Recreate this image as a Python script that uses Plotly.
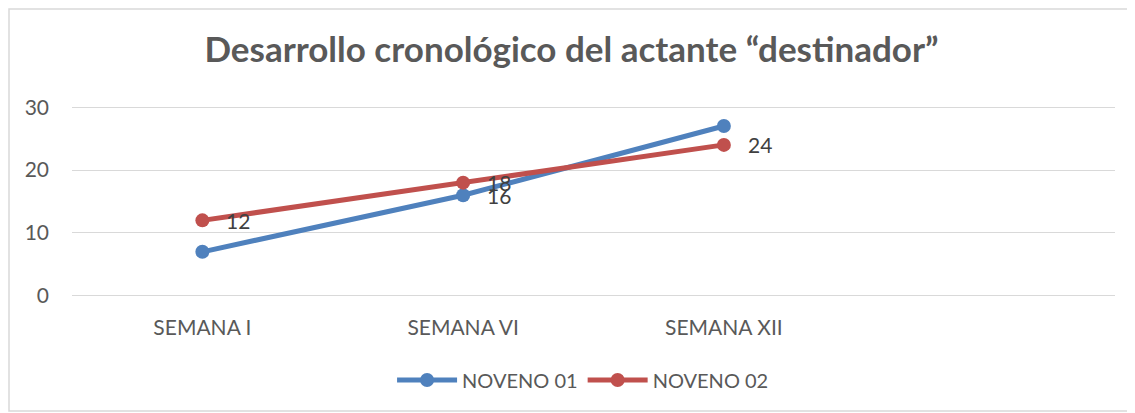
import plotly.graph_objects as go

semanas = ["SEMANA I", "SEMANA VI", "SEMANA XII"]
noveno_01 = [7, 16, 27]
noveno_02 = [12, 18, 24]
etiquetas_01 = ["", "16", ""]
etiquetas_02 = ["12", "18", "24"]

azul = "#4F81BD"
rojo = "#C0504D"
gris = "#595959"
fuente = "Lato"

fig = go.Figure()
fig.add_trace(go.Scatter(
    x=semanas, y=noveno_01, name="NOVENO 01", mode="lines+markers",
    line=dict(color=azul, width=5), marker=dict(size=14, color=azul),
))
fig.add_trace(go.Scatter(
    x=semanas, y=noveno_02, name="NOVENO 02", mode="lines+markers",
    line=dict(color=rojo, width=5), marker=dict(size=14, color=rojo),
))

# etiquetas de datos, desplazadas a la derecha como en Excel
for serie, etiquetas in [(noveno_01, etiquetas_01), (noveno_02, etiquetas_02)]:
    for sem, val, txt in zip(semanas, serie, etiquetas):
        if txt:
            fig.add_annotation(x=sem, y=val, text=txt, showarrow=False,
                               xanchor="left", yanchor="middle", xshift=22,
                               font=dict(family=fuente, size=21, color="#404040"))

# la página tiene 8px de margen, así que la figura es algo más pequeña
W, H = 1127, 405
ml, mt, pw, ph = 64, 96, 1043, 195
fondo = mt + ph

# marco gris del gráfico
fig.add_shape(type="rect", xref="paper", yref="paper",
              x0=(1 - ml) / pw, x1=(1120 - ml) / pw,
              y0=(fondo - 403) / ph, y1=(fondo - 1) / ph,
              line=dict(color="#D9D9D9", width=1.5), layer="below")

fig.update_layout(
    width=W, height=H,
    margin=dict(l=ml, r=W - ml - pw, t=mt, b=H - fondo, autoexpand=False),
    paper_bgcolor="white", plot_bgcolor="white",
    title=dict(text="<b>Desarrollo cronológico del actante “destinador”</b>",
               x=0.5, xanchor="center", y=1 - 42 / H, yanchor="middle",
               font=dict(family=fuente, size=35, color=gris)),
    xaxis=dict(type="category", range=[-0.5, 3.5], showgrid=False,
               showline=False, ticks="", zeroline=False, ticklabelstandoff=14,
               tickfont=dict(family=fuente, size=21, color=gris)),
    yaxis=dict(range=[-0.5, 30.5], tickvals=[0, 10, 20, 30], showgrid=True,
               gridcolor="#D9D9D9", gridwidth=1.3, zeroline=False,
               showline=False, ticks="", ticklabelstandoff=22,
               tickfont=dict(family=fuente, size=21, color=gris)),
    legend=dict(orientation="h", x=0.49, xanchor="center", y=(fondo - 372) / ph,
                yanchor="middle", itemwidth=60,
                font=dict(family=fuente, size=20, color=gris)),
    showlegend=True,
)

fig.write_html("out.html")
